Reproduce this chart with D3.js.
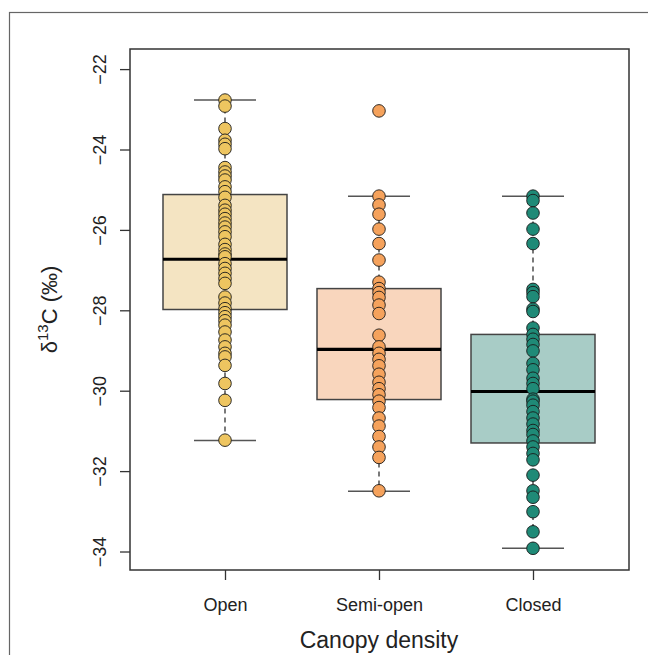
<!DOCTYPE html>
<html>
<head>
<meta charset="utf-8">
<script src="https://cdn.jsdelivr.net/npm/d3@7"></script>
<style>
  html, body { margin: 0; padding: 0; background: #fff; }
  svg { display: block; font-family: "Liberation Sans", Arial, sans-serif; }
</style>
</head>
<body>
<svg id="chart" width="648" height="655"></svg>
<script>
// ---- Data ----
const categories = ["Open", "Semi-open", "Closed"];
const yTicks = [-22, -24, -26, -28, -30, -32, -34];

const openValues = [-22.77, -22.92, -23.48, -23.77, -23.87, -23.98, -24.45, -24.56, -24.66, -24.76,
  -24.93, -25.05, -25.19, -25.39, -25.51, -25.61, -25.72, -25.83, -25.93, -26.05, -26.17, -26.36,
  -26.49, -26.60, -26.67, -26.84, -26.96, -27.08, -27.21, -27.33, -27.67, -27.82, -27.96, -28.06,
  -28.16, -28.26, -28.37, -28.54, -28.74, -28.91, -29.07, -29.16, -29.37, -29.82, -30.24, -31.23];
const semiValues = [-23.04, -25.16, -25.38, -25.61, -25.98, -26.34, -26.75, -27.30, -27.46, -27.56,
  -27.68, -27.87, -28.08, -28.62, -28.91, -29.07, -29.22, -29.38, -29.59, -29.79, -29.95, -30.10,
  -30.26, -30.42, -30.68, -30.88, -31.14, -31.40, -31.66, -32.49];
const closedValues = [-25.16, -25.27, -25.58, -25.98, -26.34, -27.48, -27.56, -27.66, -27.97, -28.03,
  -28.44, -28.60, -28.72, -28.85, -29.01, -29.32, -29.48, -29.69, -29.82, -29.95, -30.21, -30.26,
  -30.36, -30.52, -30.68, -30.83, -30.99, -31.09, -31.25, -31.40, -31.56, -31.72, -32.10, -32.49,
  -32.65, -33.01, -33.51, -33.92];

// box statistics
const boxLow = [-31.24, -32.50, -33.92];
const boxQ1 = [-27.98, -30.22, -31.30];
const boxMedian = [-26.73, -28.97, -30.02];
const boxQ3 = [-25.12, -27.46, -28.60];
const boxHigh = [-22.77, -25.16, -25.16];

const pointColors = ["#EEC560", "#F5A25C", "#1F8A77"];
const boxColors = ["#F4E4C2", "#F9D6BD", "#A8CCC6"];

const groups = [openValues, semiValues, closedValues];

// ---- Layout ----
const svg = d3.select("#chart");
const plot = { left: 130, right: 629, top: 49, bottom: 570 };

const y = d3.scaleLinear().domain([-34.46, -21.5]).range([plot.bottom, plot.top]);
const x = d3.scaleLinear().domain([1, 3]).range([225, 533]);
const boxHalf = 62, capHalf = 31;

// outer frame
svg.append("rect").attr("x", 9.5).attr("y", 12.5).attr("width", 700).attr("height", 700)
  .attr("fill", "none").attr("stroke", "#666").attr("stroke-width", 1.2);

// boxes
const g = svg.append("g");
categories.forEach((c, i) => {
  const cx = x(i + 1);
  g.append("line").attr("x1", cx).attr("x2", cx).attr("y1", y(boxQ3[i])).attr("y2", y(boxHigh[i]))
    .attr("stroke", "#222").attr("stroke-width", 1.2).attr("stroke-dasharray", "5,4");
  g.append("line").attr("x1", cx).attr("x2", cx).attr("y1", y(boxQ1[i])).attr("y2", y(boxLow[i]))
    .attr("stroke", "#222").attr("stroke-width", 1.2).attr("stroke-dasharray", "5,4");
  [boxHigh[i], boxLow[i]].forEach(v => {
    g.append("line").attr("x1", cx - capHalf).attr("x2", cx + capHalf).attr("y1", y(v)).attr("y2", y(v))
      .attr("stroke", "#555").attr("stroke-width", 1.5);
  });
  g.append("rect").attr("x", cx - boxHalf).attr("y", y(boxQ3[i]))
    .attr("width", boxHalf * 2).attr("height", y(boxQ1[i]) - y(boxQ3[i]))
    .attr("fill", boxColors[i]).attr("stroke", "#444").attr("stroke-width", 1.5);
  g.append("line").attr("x1", cx - boxHalf).attr("x2", cx + boxHalf)
    .attr("y1", y(boxMedian[i])).attr("y2", y(boxMedian[i]))
    .attr("stroke", "#000").attr("stroke-width", 3.2);
});

// points
categories.forEach((c, i) => {
  g.selectAll(null).data(groups[i]).enter().append("circle")
    .attr("cx", x(i + 1)).attr("cy", d => y(d)).attr("r", 6.3)
    .attr("fill", pointColors[i]).attr("stroke", "#1a1a1a").attr("stroke-width", 0.9);
});

// plot frame
svg.append("rect").attr("x", plot.left).attr("y", plot.top)
  .attr("width", plot.right - plot.left).attr("height", plot.bottom - plot.top)
  .attr("fill", "none").attr("stroke", "#333").attr("stroke-width", 1.5);

// y axis
const yAxis = d3.axisLeft(y).tickValues(yTicks).tickSize(10).tickFormat(d3.format("d"));
const ya = svg.append("g").attr("transform", `translate(${plot.left},0)`).call(yAxis);
ya.select(".domain").remove();
ya.selectAll(".tick line").attr("stroke", "#333").attr("stroke-width", 1.3);
ya.selectAll(".tick text").attr("x", null).attr("dy", null)
  .attr("transform", "translate(-24,0) rotate(-90)")
  .attr("text-anchor", "middle").attr("font-size", 18).attr("fill", "#222")
  .attr("font-family", "Liberation Sans, Arial, sans-serif");

// x axis
const xAxis = d3.axisBottom(d3.scalePoint().domain(categories).range([x(1), x(3)]))
  .tickSize(10).tickPadding(18);
const xa = svg.append("g").attr("transform", `translate(0,${plot.bottom})`).call(xAxis);
xa.select(".domain").remove();
xa.selectAll(".tick line").attr("stroke", "#333").attr("stroke-width", 1.3);
xa.selectAll(".tick text").attr("font-size", 18).attr("fill", "#222")
  .attr("font-family", "Liberation Sans, Arial, sans-serif");

// axis titles
const yt = svg.append("text").attr("transform", `translate(57,${(plot.top + plot.bottom) / 2}) rotate(-90)`)
  .attr("text-anchor", "middle").attr("font-size", 22).attr("fill", "#222");
yt.append("tspan").text("δ");
yt.append("tspan").attr("font-size", 15).attr("dy", -9).text("13");
yt.append("tspan").attr("dy", 9).text("C (‰)");

svg.append("text").attr("x", 379).attr("y", 648).attr("text-anchor", "middle")
  .attr("font-size", 23).attr("fill", "#222").text("Canopy density");
</script>
</body>
</html>
